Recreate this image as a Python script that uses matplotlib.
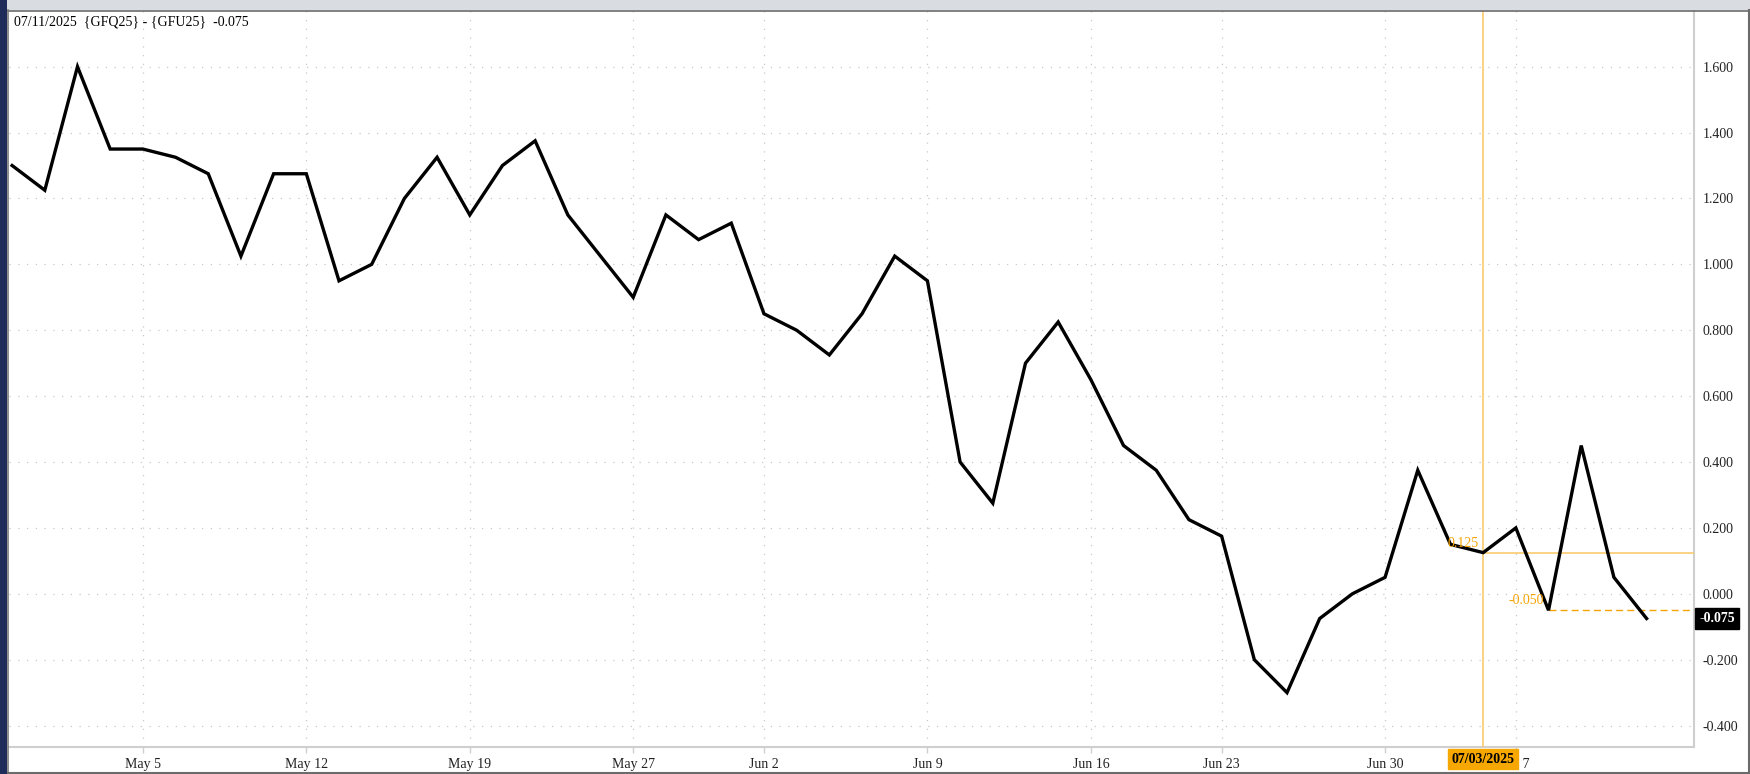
"""
GFQ25 - GFU25 feeder cattle spread, daily close
"""

import matplotlib
matplotlib.use("Agg")
import matplotlib.pyplot as plt
from matplotlib.patches import Rectangle
from matplotlib.lines import Line2D
from matplotlib.ticker import FormatStrFormatter, FixedLocator

plt.rcParams['font.family'] = ['Liberation Serif', 'DejaVu Serif']
plt.rcParams['axes.unicode_minus'] = False

# Data (trading days)
dates = [
    'Apr 29', 'Apr 30', 'May 1', 'May 2',
    'May 5', 'May 6', 'May 7', 'May 8', 'May 9',
    'May 12', 'May 13', 'May 14', 'May 15', 'May 16',
    'May 19', 'May 20', 'May 21', 'May 22', 'May 23',
    'May 27', 'May 28', 'May 29', 'May 30',
    'Jun 2', 'Jun 3', 'Jun 4', 'Jun 5', 'Jun 6',
    'Jun 9', 'Jun 10', 'Jun 11', 'Jun 12', 'Jun 13',
    'Jun 16', 'Jun 17', 'Jun 18', 'Jun 20',
    'Jun 23', 'Jun 24', 'Jun 25', 'Jun 26', 'Jun 27',
    'Jun 30', 'Jul 1', 'Jul 2', 'Jul 3',
    'Jul 7', 'Jul 8', 'Jul 9', 'Jul 10', 'Jul 11',
]
spread = [
    1.300, 1.225, 1.600, 1.350,
    1.350, 1.325, 1.275, 1.025, 1.275,
    1.275, 0.950, 1.000, 1.200, 1.325,
    1.150, 1.300, 1.375, 1.150, 1.025,
    0.900, 1.150, 1.075, 1.125,
    0.850, 0.800, 0.725, 0.850, 1.025,
    0.950, 0.400, 0.275, 0.700, 0.825,
    0.650, 0.450, 0.375, 0.225,
    0.175, -0.200, -0.300, -0.075, 0.000,
    0.050, 0.375, 0.150, 0.125,
    0.200, -0.050, 0.450, 0.050, -0.075,
]
tick_dates = ['May 5', 'May 12', 'May 19', 'May 27', 'Jun 2',
              'Jun 9', 'Jun 16', 'Jun 23', 'Jun 30', 'Jul 7']
y_ticks = [-0.4, -0.2, 0.0, 0.2, 0.4, 0.6, 0.8, 1.0, 1.2, 1.4, 1.6]

title = '07/11/2025  {GFQ25} - {GFU25}  -0.075'
cursor_date = 'Jul 3'
cursor_label = '07/03/2025'
cursor_value = 0.125
low_date = 'Jul 8'
low_value = -0.050
last_value = spread[-1]

ORANGE = '#f5a300'
ORANGE_LIGHT = '#fbcb70'

W, H = 1750, 774
fig = plt.figure(figsize=(W / 100, H / 100), dpi=100)
fig.patch.set_facecolor('white')

# outer frame: top band, navy left strip, borders
fig.patches.append(Rectangle((0, 1 - 10 / H), 1, 10 / H, transform=fig.transFigure,
                             facecolor='#d9dde2', edgecolor='none', zorder=0))
fig.patches.append(Rectangle((0, 0), 7 / W, 1, transform=fig.transFigure,
                             facecolor='#1f2b58', edgecolor='none', zorder=1))
fig.lines.append(Line2D([7.5 / W, 1], [1 - 10.5 / H] * 2, transform=fig.transFigure,
                        color='#6b6b6b', lw=1.2))
fig.lines.append(Line2D([8 / W] * 2, [0, 1 - 10 / H], transform=fig.transFigure,
                        color='#7a7a7a', lw=1.2))
fig.lines.append(Line2D([1 - 1.5 / W] * 2, [0, 1 - 10 / H], transform=fig.transFigure,
                        color='#6b6b6b', lw=1.5))
fig.lines.append(Line2D([7.5 / W, 1], [1.2 / H] * 2, transform=fig.transFigure,
                        color='#6b6b6b', lw=1.5))

ax = fig.add_axes([9 / W, 27 / H, (1694 - 9) / W, (747 - 11) / H])
ax.set_facecolor('white')

x = list(range(len(dates)))
ax.plot(x, spread, color='black', lw=2.4, solid_joinstyle='miter', zorder=4)

ax.set_xlim(-0.095, 51.45)
ax.set_ylim(-0.465, 1.769)

# axes styling
for side in ['left', 'top']:
    ax.spines[side].set_visible(False)
for side in ['right', 'bottom']:
    ax.spines[side].set_color('#cfcfcf')
    ax.spines[side].set_linewidth(1.5)

tick_pos = [dates.index(d) for d in tick_dates]
ax.xaxis.set_major_locator(FixedLocator(tick_pos))
ax.set_xticklabels(tick_dates)
ax.yaxis.set_major_locator(FixedLocator(y_ticks))
ax.yaxis.set_major_formatter(FormatStrFormatter('%.3f'))
ax.yaxis.tick_right()
ax.tick_params(axis='y', length=0, pad=6, labelsize=10, labelcolor='#222222')
ax.tick_params(axis='x', length=4, width=1, color='#cfcfcf', pad=4,
               labelsize=10, labelcolor='#222222')

ax.grid(True, color='#c8c8c8', linestyle=(0, (1, 6)), linewidth=0.9)
ax.set_axisbelow(True)

# cursor lines and labels
cx = dates.index(cursor_date)
lx = dates.index(low_date)
ax.axvline(cx, color=ORANGE_LIGHT, lw=1.2, zorder=3)
ax.plot([cx, ax.get_xlim()[1]], [cursor_value] * 2, color=ORANGE_LIGHT, lw=1.2, zorder=3)
ax.plot([lx, ax.get_xlim()[1]], [low_value] * 2, color=ORANGE, lw=1.0,
        linestyle=(0, (5, 3)), zorder=3)
ax.annotate(f'{cursor_value:.3f}', xy=(cx, cursor_value), xytext=(-3, 2),
            textcoords='offset points', ha='right', va='bottom',
            color=ORANGE, fontsize=10, zorder=5)
ax.annotate(f'{low_value:.3f}', xy=(lx, low_value), xytext=(-3, 2),
            textcoords='offset points', ha='right', va='bottom',
            color=ORANGE, fontsize=10, zorder=5)

# last value tag on right axis
ax.annotate(f'{last_value:.3f}', xy=(1.0, last_value),
            xycoords=('axes fraction', 'data'), xytext=(4, 0),
            textcoords='offset points', ha='left', va='center',
            color='white', fontsize=10, fontweight='bold',
            bbox=dict(boxstyle='square,pad=0.3', facecolor='black', edgecolor='black'),
            annotation_clip=False, zorder=6)

# cursor date tag under x axis
ax.annotate(cursor_label, xy=(cx, 0.0), xycoords=('data', 'axes fraction'),
            xytext=(0, -4), textcoords='offset points', ha='center', va='top',
            color='black', fontsize=10, fontweight='bold',
            bbox=dict(boxstyle='square,pad=0.25', facecolor='#f7a800', edgecolor='#f7a800'),
            annotation_clip=False, zorder=6)

fig.text(14 / W, 1 - 22 / H, title, ha='left', va='center', fontsize=10, color='black')

fig.savefig('out.png', dpi=100, facecolor=fig.get_facecolor())
